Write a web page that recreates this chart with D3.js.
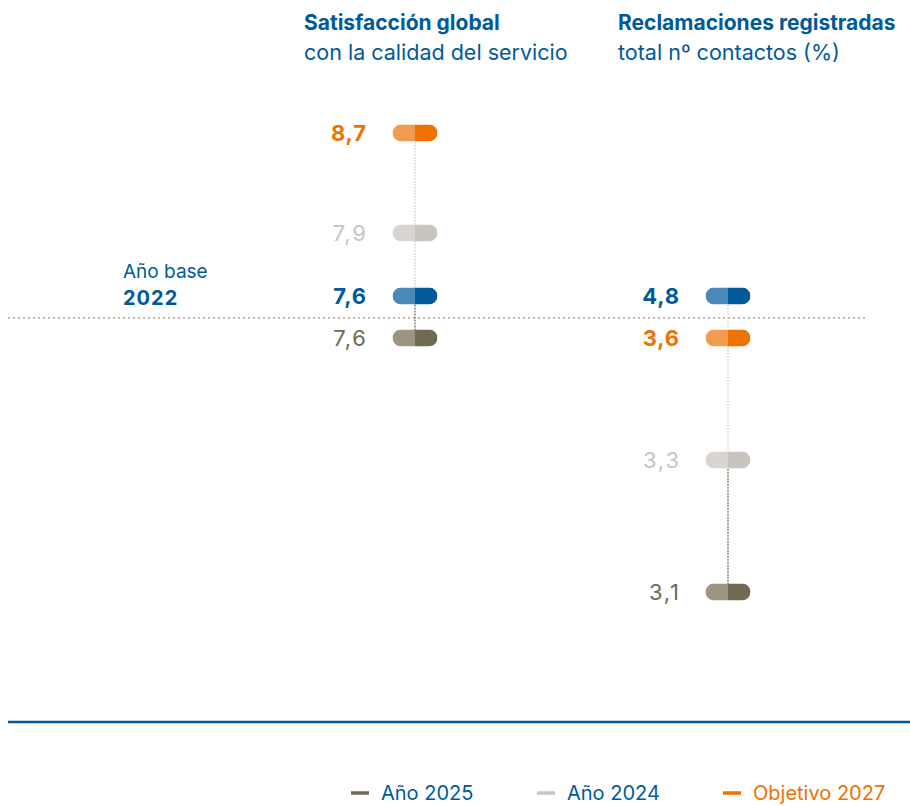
<!DOCTYPE html>
<html>
<head>
<meta charset="utf-8">
<script src="https://cdn.jsdelivr.net/npm/d3@7"></script>
<style>
  body { margin: 0; background: #fff; }
  svg { font-family: Inter, "Open Sans", sans-serif; }
</style>
</head>
<body>
<div id="chart"></div>
<script>
// series order matters: top to bottom inside each column
const seriesNames = ["Objetivo 2027", "Año 2024", "Año base 2022", "Año 2025"];
const satisfaccion = [8.7, 7.9, 7.6, 7.6];
const reclamaciones = [3.6, 3.3, 4.8, 3.1];
const legendNames = ["Año 2025", "Año 2024", "Objetivo 2027"];

const colors = {
  "Objetivo 2027": { dark: "#ee7203", light: "#f19c50", text: "#ee7203", bold: true },
  "Año 2024":      { dark: "#c9c4be", light: "#d9d5d1", text: "#c9c4be", bold: false },
  "Año base 2022": { dark: "#005a9a", light: "#4b89b9", text: "#005a9a", bold: true },
  "Año 2025":      { dark: "#706a52", light: "#9d9583", text: "#706a52", bold: false }
};

const W = 910, H = 806;
const blue = "#005a9a";
const baseY = 296, lineY = 318, belowY = 338;

const svg = d3.select("#chart").append("svg")
  .attr("width", W).attr("height", H);

// the chart is schematic: each column gets its own broken scale
const columns = [
  {
    title: "Satisfacción global", sub: "con la calidad del servicio",
    tx: 304, cx: 415, values: satisfaccion,
    y: d3.scaleLinear().domain([7.6, 7.9, 8.7]).range([baseY, 233, 133])
  },
  {
    title: "Reclamaciones registradas", sub: "total nº contactos (%)",
    tx: 618, cx: 728, values: reclamaciones,
    y: d3.scaleLinear().domain([3.1, 3.3, 3.6, 4.8]).range([592, 460, belowY, baseY])
  }
];

// dotted base line
svg.append("line")
  .attr("x1", 8).attr("x2", 865)
  .attr("y1", lineY).attr("y2", lineY)
  .attr("stroke", "#bdbab5").attr("stroke-width", 2)
  .attr("stroke-dasharray", "2 3");

// base year label
svg.append("text").attr("x", 123).attr("y", 278)
  .attr("font-size", 19).attr("fill", blue).text("Año base");
svg.append("text").attr("x", 123).attr("y", 305)
  .attr("font-size", 20).attr("font-weight", 700).attr("letter-spacing", 1)
  .attr("fill", blue).text("2022");

const pw = 45, ph = 17;

columns.forEach(col => {
  const base = col.values[2];
  const pts = col.values.map((v, i) => {
    const name = seriesNames[i];
    let yy = col.y(v);
    // anything not above the base goes under the dotted line
    if (name !== "Año base 2022" && v <= base) yy = Math.max(yy, belowY);
    return { name, v, y: yy };
  }).sort((a, b) => a.y - b.y);

  const g = svg.append("g");

  // titles
  g.append("text").attr("x", col.tx).attr("y", 30)
    .attr("font-size", 21).attr("font-weight", 700).attr("fill", blue).text(col.title);
  g.append("text").attr("x", col.tx).attr("y", 60)
    .attr("font-size", 21.5).attr("fill", blue).text(col.sub);

  // connector
  const p2025 = pts.find(d => d.name === "Año 2025");
  const idx = pts.indexOf(p2025);
  g.append("line")
    .attr("x1", col.cx).attr("x2", col.cx)
    .attr("y1", pts[0].y).attr("y2", p2025.y)
    .attr("stroke", "#c9c4be").attr("stroke-width", 1.2)
    .attr("stroke-dasharray", "1.5 1.5");
  if (idx > 0) {
    g.append("line")
      .attr("x1", col.cx).attr("x2", col.cx)
      .attr("y1", pts[idx - 1].y).attr("y2", p2025.y)
      .attr("stroke", "#706a52").attr("stroke-width", 1.2)
      .attr("stroke-dasharray", "1.5 1.5");
  }

  // pills
  pts.forEach((d, i) => {
    const c = colors[d.name];
    const clipId = "clip" + col.cx + "_" + i;
    g.append("clipPath").attr("id", clipId)
      .append("rect")
      .attr("x", col.cx - pw / 2).attr("y", d.y - ph / 2)
      .attr("width", pw).attr("height", ph).attr("rx", ph / 2);
    const pg = g.append("g").attr("clip-path", `url(#${clipId})`);
    pg.append("rect").attr("x", col.cx - pw / 2).attr("y", d.y - ph / 2)
      .attr("width", pw / 2).attr("height", ph).attr("fill", c.light);
    pg.append("rect").attr("x", col.cx).attr("y", d.y - ph / 2)
      .attr("width", pw / 2).attr("height", ph).attr("fill", c.dark);

    const ls = c.bold ? 0.8 : 1.8;
    g.append("text")
      .attr("x", col.cx - 49 + ls).attr("y", d.y)
      .attr("dy", "0.36em")
      .attr("text-anchor", "end")
      .attr("font-size", 22)
      .attr("font-weight", c.bold ? 700 : 400)
      .attr("letter-spacing", ls)
      .attr("fill", c.text)
      .text(d3.format(".1f")(d.v).replace(".", ","));
  });
});

// bottom rule
svg.append("line").attr("x1", 8).attr("x2", W)
  .attr("y1", 722).attr("y2", 722)
  .attr("stroke", blue).attr("stroke-width", 2.5);

// legend
const lx = d3.scalePoint().domain(legendNames).range([351, 723]);
const lg = svg.append("g").selectAll("g").data(legendNames).enter().append("g")
  .attr("transform", d => `translate(${lx(d)},793)`);
lg.append("line").attr("x1", 0).attr("x2", 18)
  .attr("stroke", d => colors[d].dark).attr("stroke-width", 3.5);
lg.append("text").attr("x", 30).attr("dy", "0.36em")
  .attr("font-size", 20)
  .attr("fill", d => d === "Objetivo 2027" ? colors[d].text : blue)
  .text(d => d);
</script>
</body>
</html>
